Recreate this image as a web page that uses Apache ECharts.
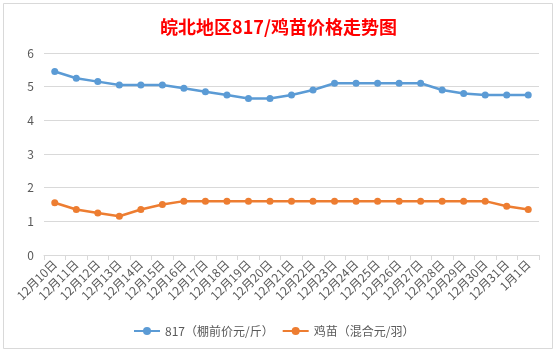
<!DOCTYPE html>
<html>
<head>
<meta charset="utf-8">
<script src="https://cdn.jsdelivr.net/npm/echarts@6/dist/echarts.min.js"></script>
<style>
	html, body { margin: 0; padding: 0; background: #fff; }
	#myChart { width: 557px; height: 352px; }
</style>
</head>
<body>
<div id="myChart"></div>
<script>
// 日期
var category = ['12月10日', '12月11日', '12月12日', '12月13日', '12月14日', '12月15日', '12月16日', '12月17日',
	'12月18日', '12月19日', '12月20日', '12月21日', '12月22日', '12月23日', '12月24日', '12月25日',
	'12月26日', '12月27日', '12月28日', '12月29日', '12月30日', '12月31日', '1月1日'];
// 817 棚前价
var price817 = [5.45, 5.25, 5.15, 5.05, 5.05, 5.05, 4.95, 4.85, 4.75, 4.65, 4.65, 4.75,
	4.9, 5.1, 5.1, 5.1, 5.1, 5.1, 4.9, 4.8, 4.75, 4.75, 4.75];
// 鸡苗 混合
var chickPrice = [1.55, 1.35, 1.25, 1.15, 1.35, 1.5, 1.6, 1.6, 1.6, 1.6, 1.6, 1.6,
	1.6, 1.6, 1.6, 1.6, 1.6, 1.6, 1.6, 1.6, 1.6, 1.45, 1.35];
var seriesNames = ['817（棚前价元/斤）', '鸡苗（混合元/羽）'];

var font = '"Noto Sans CJK SC", "Microsoft YaHei", sans-serif';
var myChart = echarts.init(document.getElementById('myChart'));
var option = {
	backgroundColor: '#fff',
	animation: false,
	textStyle: { fontFamily: font },
	title: {
		text: '皖北地区817/鸡苗价格走势图',
		left: 'center',
		top: 13,
		textStyle: { color: '#ff0000', fontSize: 18, fontWeight: 'bold', fontFamily: font }
	},
	graphic: [{
		type: 'rect',
		shape: { x: 3.5, y: 3.5, width: 549, height: 345 },
		style: { fill: 'none', stroke: '#d9d9d9', lineWidth: 1 },
		silent: true
	}],
	legend: {
		data: seriesNames,
		bottom: 10,
		left: 128,
		itemWidth: 26,
		itemHeight: 10,
		itemGap: 8,
		textStyle: { color: '#595959', fontSize: 12, fontFamily: font }
	},
	grid: { left: 44, right: 18, top: 53, bottom: 97, containLabel: false },
	xAxis: {
		type: 'category',
		data: category,
		boundaryGap: true,
		axisLine: { lineStyle: { color: '#d9d9d9' } },
		axisTick: { show: true, alignWithLabel: false, lineStyle: { color: '#d9d9d9' }, length: 5 },
		axisLabel: { rotate: 45, interval: 0, color: '#595959', fontSize: 12, margin: 7 }
	},
	yAxis: {
		type: 'value',
		min: 0,
		max: 6,
		interval: 1,
		axisLine: { show: false },
		axisTick: { show: false },
		axisLabel: { color: '#595959', fontSize: 12, margin: 10 },
		splitLine: { lineStyle: { color: '#d9d9d9' } }
	},
	series: [{
		name: seriesNames[0],
		type: 'line',
		data: price817,
		color: '#5b9bd5',
		symbol: 'circle',
		symbolSize: 7,
		lineStyle: { width: 2.5 }
	}, {
		name: seriesNames[1],
		type: 'line',
		data: chickPrice,
		color: '#ed7d31',
		symbol: 'circle',
		symbolSize: 7,
		lineStyle: { width: 2.5 }
	}]
};
myChart.setOption(option);
</script>
</body>
</html>
